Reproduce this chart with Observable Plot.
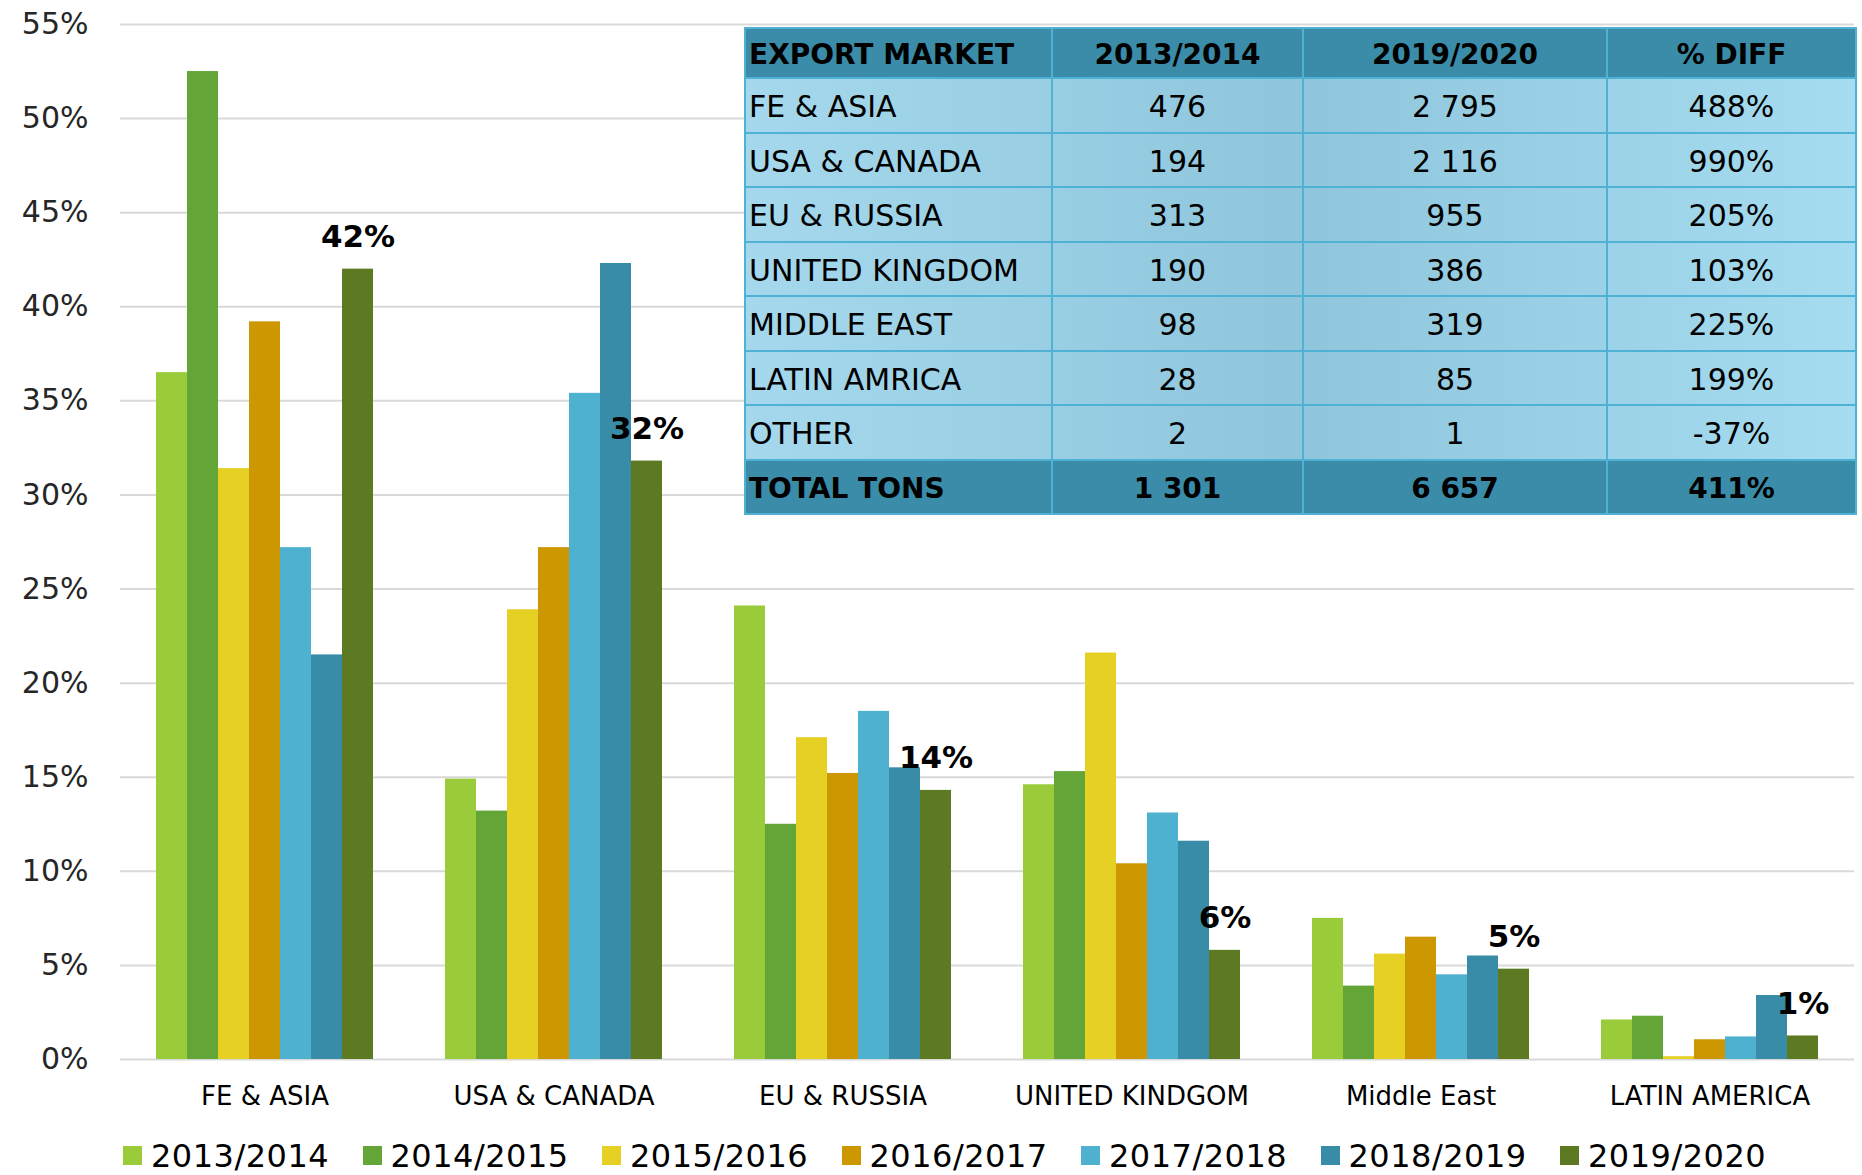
<!DOCTYPE html>
<html><head><meta charset="utf-8">
<script src="https://cdn.jsdelivr.net/npm/d3@7"></script>
<script src="https://cdn.jsdelivr.net/npm/@observablehq/plot@0.6"></script>
<style>
body{margin:0;background:#fff;font-family:"DejaVu Sans",sans-serif;}
#wrap{position:relative;width:1862px;height:1175px;overflow:hidden;background:#fff;}
#chart{position:absolute;left:0;top:0;}
#tbl{position:absolute;left:744px;top:27px;width:1111px;border-collapse:collapse;font-family:"DejaVu Sans",sans-serif;font-size:30px;color:#000;
 background:linear-gradient(to right,#a5d8ec 0%,#8fc6dc 50%,#a6dcf0 100%);z-index:2;table-layout:fixed;}
#tbl td{border:2px solid #4fb2d4;padding:4px 0 0 3px;white-space:nowrap;line-height:1;}
#tbl td.num{text-align:center;padding:4px 0 0 0;}
#tbl tr{height:54.5px;}
#tbl tr.head{height:50px;}
#tbl tr.head td, #tbl tr.tot td{background:#3a8ca8;font-weight:bold;font-size:28px;}
#legend{position:absolute;left:0;top:1120px;width:1862px;height:55px;}
.lg-sw{position:absolute;width:19px;height:19px;top:26px;}
.lg-tx{position:absolute;top:17px;font-size:32px;line-height:38px;color:#000;letter-spacing:0.5px;}
</style></head>
<body><div id="wrap"><div id="chart"></div></div>
<script>
// ---- chart data (percent share of exports) ----
const regions = ["FE & ASIA", "USA & CANADA", "EU & RUSSIA", "UNITED KINDGOM", "Middle East", "LATIN AMERICA"];
const seasons = ["2013/2014", "2014/2015", "2015/2016", "2016/2017", "2017/2018", "2018/2019", "2019/2020"];
const seasonColors = ["#9acb3a", "#64a537", "#e5d023", "#cd9701", "#4fb1d0", "#388ca7", "#5d7a22"];
const s2013_2014 = [36.5, 14.9, 24.1, 14.6, 7.5, 2.1];
const s2014_2015 = [52.5, 13.2, 12.5, 15.3, 3.9, 2.3];
const s2015_2016 = [31.4, 23.9, 17.1, 21.6, 5.6, 0.15];
const s2016_2017 = [39.2, 27.2, 15.2, 10.4, 6.5, 1.05];
const s2017_2018 = [27.2, 35.4, 18.5, 13.1, 4.5, 1.2];
const s2018_2019 = [21.5, 42.3, 15.5, 11.6, 5.5, 3.4];
const s2019_2020 = [42.0, 31.8, 14.3, 5.8, 4.8, 1.25];
const yTicks = [0, 0.05, 0.10, 0.15, 0.20, 0.25, 0.30, 0.35, 0.40, 0.45, 0.50, 0.55];

// ---- table data ----
const tableHeader = ["EXPORT MARKET", "2013/2014", "2019/2020", "% DIFF"];
const tableMarkets = ["FE & ASIA", "USA & CANADA", "EU & RUSSIA", "UNITED KINGDOM", "MIDDLE EAST", "LATIN AMRICA", "OTHER"];
const tons2013_2014 = ["476", "194", "313", "190", "98", "28", "2"];
const tons2019_2020 = ["2 795", "2 116", "955", "386", "319", "85", "1"];
const tonsDiff = ["488%", "990%", "205%", "103%", "225%", "199%", "-37%"];
const tableTotal = ["TOTAL TONS", "1 301", "6 657", "411%"];

const seriesList = [s2013_2014, s2014_2015, s2015_2016, s2016_2017, s2017_2018, s2018_2019, s2019_2020];
const data = [];
seasons.forEach((s, i) => regions.forEach((r, j) => data.push({region: r, season: s, value: seriesList[i][j] / 100})));
const lastSeason = seasons[seasons.length - 1];

const chart = Plot.plot({
  width: 1862,
  height: 1120,
  marginLeft: 118,
  marginRight: 7,
  marginTop: 24,
  marginBottom: 61,
  style: {fontFamily: "DejaVu Sans, sans-serif", fontSize: "26px", color: "#000", background: "transparent", overflow: "visible"},
  facet: {data: data, x: "region"},
  fx: {domain: regions, padding: 0, label: null, axis: "bottom", tickSize: 0, tickPadding: 27},
  x: {domain: seasons, paddingInner: 0, paddingOuter: 1.11, axis: null},
  y: {domain: [0, 0.55], ticks: yTicks, tickFormat: d => Math.round(d * 100) + "%", tickSize: 0, tickPadding: 32, label: null},
  color: {domain: seasons, range: seasonColors},
  marks: [
    Plot.ruleY(yTicks, {stroke: "#d9d9d9", strokeWidth: 2}),
    Plot.barY(data, {x: "season", y: "value", fill: "season"}),
    Plot.text(data, {filter: d => d.season === lastSeason, x: "season", y: "value",
      text: d => Math.round(d.value * 100) + "%", dy: -32, fontSize: 31, fontWeight: "bold", fill: "#000"})
  ]
});
document.getElementById("chart").appendChild(chart);
d3.select(chart).selectAll('g[aria-label^="y-axis"]').attr("font-size", 30);
d3.select(chart).selectAll('g[aria-label^="y-axis"] text').attr("font-size", 30).attr("fill", "#262626");

// table
const wrap = document.getElementById("wrap");
const tbl = document.createElement("table");
tbl.id = "tbl";
const colW = [307, 251, 304, 249];
const cg = document.createElement("colgroup");
colW.forEach(w => { const c = document.createElement("col"); c.style.width = w + "px"; cg.appendChild(c); });
tbl.appendChild(cg);
function addRow(cells, cls) {
  const tr = document.createElement("tr");
  if (cls) tr.className = cls;
  cells.forEach((v, k) => {
    const td = document.createElement("td");
    td.textContent = v;
    if (k > 0) td.className = "num";
    tr.appendChild(td);
  });
  tbl.appendChild(tr);
}
addRow(tableHeader, "head");
tableMarkets.forEach((m, i) => addRow([m, tons2013_2014[i], tons2019_2020[i], tonsDiff[i]]));
addRow(tableTotal, "tot");
wrap.appendChild(tbl);

// legend
const lg = document.createElement("div");
lg.id = "legend";
seasons.forEach((s, i) => {
  const sw = document.createElement("div");
  sw.className = "lg-sw";
  sw.style.left = (123 + i * 239.5) + "px";
  sw.style.background = seasonColors[i];
  const tx = document.createElement("div");
  tx.className = "lg-tx";
  tx.style.left = (151 + i * 239.5) + "px";
  tx.textContent = s;
  lg.appendChild(sw);
  lg.appendChild(tx);
});
wrap.appendChild(lg);
</script>
</body></html>
